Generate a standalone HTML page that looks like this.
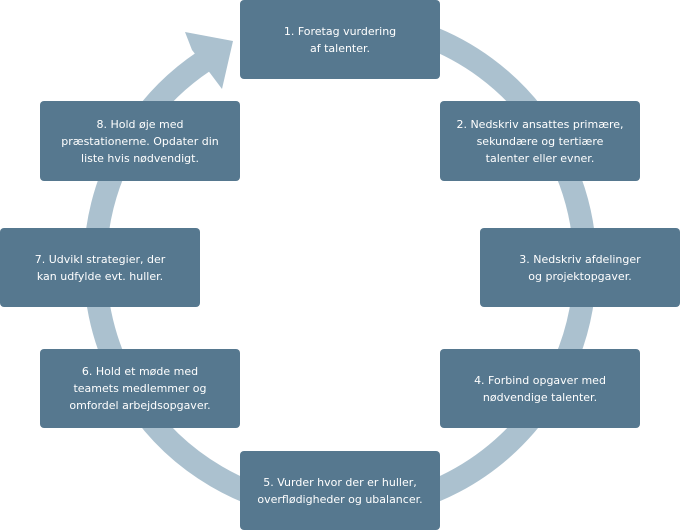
<!DOCTYPE html>
<html><head><meta charset="utf-8"><style>
html,body{margin:0;padding:0;background:#fff;}
body{width:680px;height:530px;position:relative;overflow:hidden;font-family:"DejaVu Sans","Liberation Sans",sans-serif;}
.b{position:absolute;width:200px;height:79px;background:#56788f;border-radius:4px;color:#fff;font-size:11px;line-height:17px;display:flex;align-items:center;justify-content:center;text-align:center;}
svg{position:absolute;left:0;top:0;}
</style></head><body>
<svg width="680" height="530">
<path d="M250,37.1 A245,245 0 1 1 204,61.2" fill="none" stroke="#abc1cf" stroke-width="23"/>
<polygon points="185,32 233,41 222,89 210,73 192,50" fill="#abc1cf"/>
</svg>
<div class="b" style="left:240px;top:0">1. Foretag vurdering<br>af talenter.</div>
<div class="b" style="left:440px;top:101px;height:80px">2. Nedskriv ansattes primære,<br>sekundære og tertiære<br>talenter eller evner.</div>
<div class="b" style="left:480px;top:228px">3. Nedskriv afdelinger<br>og projektopgaver.</div>
<div class="b" style="left:440px;top:349px">4. Forbind opgaver med<br>nødvendige talenter.</div>
<div class="b" style="left:240px;top:451px">5. Vurder hvor der er huller,<br>overflødigheder og ubalancer.</div>
<div class="b" style="left:40px;top:349px">6. Hold et møde med<br>teamets medlemmer og<br>omfordel arbejdsopgaver.</div>
<div class="b" style="left:0;top:228px">7. Udvikl strategier, der<br>kan udfylde evt. huller.</div>
<div class="b" style="left:40px;top:101px;height:80px">8. Hold øje med<br>præstationerne. Opdater din<br>liste hvis nødvendigt.</div>
</body></html>
